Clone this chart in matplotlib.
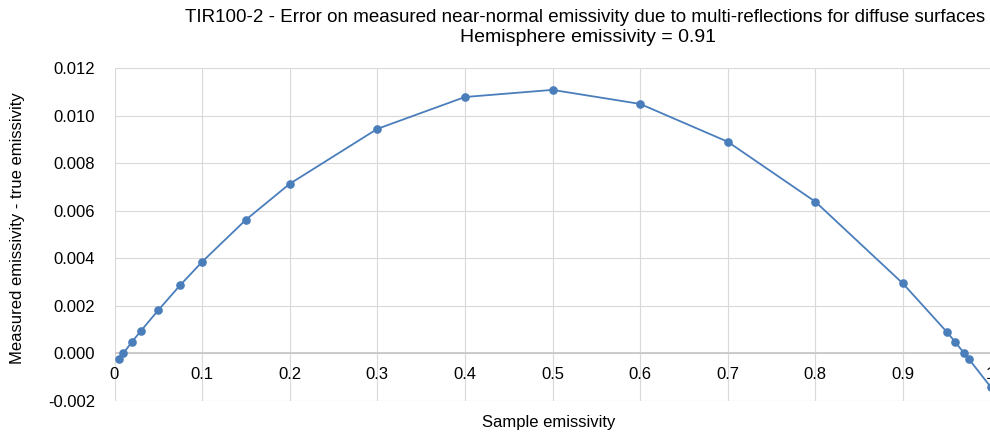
import matplotlib
matplotlib.use("Agg")
import matplotlib.pyplot as plt
import numpy as np

plt.rcParams['font.family'] = ['Liberation Sans', 'DejaVu Sans']

sample_emissivity = [0.005, 0.01, 0.02, 0.03, 0.05, 0.075, 0.1, 0.15, 0.2, 0.3, 0.4,
                     0.5, 0.6, 0.7, 0.8, 0.9, 0.95, 0.96, 0.97, 0.975, 1.0]
error = [-0.00022, 0.0, 0.00049, 0.00094, 0.00182, 0.00287, 0.00385, 0.00562, 0.00713,
         0.00944, 0.01078, 0.01108, 0.01049, 0.0089, 0.00638, 0.00294, 0.00091, 0.00047,
         0.0, -0.00022, -0.0014]
x_ticks = [0, 0.1, 0.2, 0.3, 0.4, 0.5, 0.6, 0.7, 0.8, 0.9, 1.0]
x_ticklabels = ['0', '0.1', '0.2', '0.3', '0.4', '0.5', '0.6', '0.7', '0.8', '0.9', '1']
y_ticks = [-0.002, 0.0, 0.002, 0.004, 0.006, 0.008, 0.010, 0.012]
y_ticklabels = ['-0.002', '0.000', '0.002', '0.004', '0.006', '0.008', '0.010', '0.012']

title1 = "TIR100-2 - Error on measured near-normal emissivity due to multi-reflections for diffuse surfaces"
title2 = "Hemisphere emissivity = 0.91"

fig = plt.figure(figsize=(9.9, 4.34), dpi=100)
ax = fig.add_axes([114.5/990, 1 - 401/434, (990.5 - 114.5)/990, (401 - 68)/434])

grid_c = '#d9d9d9'
for xt in x_ticks:
    ax.axvline(xt, color=grid_c, lw=0.8, zorder=0)
for yt in y_ticks:
    ax.axhline(yt, color=grid_c, lw=0.8, zorder=0)
ax.axhline(0, color='#c8c8c8', lw=1.3, zorder=1)

ax.plot(sample_emissivity, error, color='#4a7ebb', lw=1.3, marker='o', ms=5.2,
        zorder=3, clip_on=False)

ax.set_xlim(0, 1)
ax.set_ylim(-0.002, 0.012)
for s in ax.spines.values():
    s.set_visible(False)

ax.set_yticks(y_ticks)
ax.set_yticklabels(y_ticklabels, fontsize=12)
ax.tick_params(axis='y', length=0, pad=14)
ax.set_xticks([])

for xt, lab in zip(x_ticks, x_ticklabels):
    ax.text(xt, -0.00088, lab, ha='center', va='center', fontsize=12, clip_on=False)

fig.text(549/990, 1 - 422/434, "Sample emissivity", ha='center', va='center', fontsize=12)
fig.text(18/990, 1 - 228/434, "Measured emissivity - true emissivity", rotation=90,
         ha='center', va='center', fontsize=12)

fig.text(585/990, 1 - 18/434, title1, ha='center', va='center', fontsize=13.5)
fig.text(588/990, 1 - 38/434, title2, ha='center', va='center', fontsize=14)

fig.savefig("out.png", dpi=100)
